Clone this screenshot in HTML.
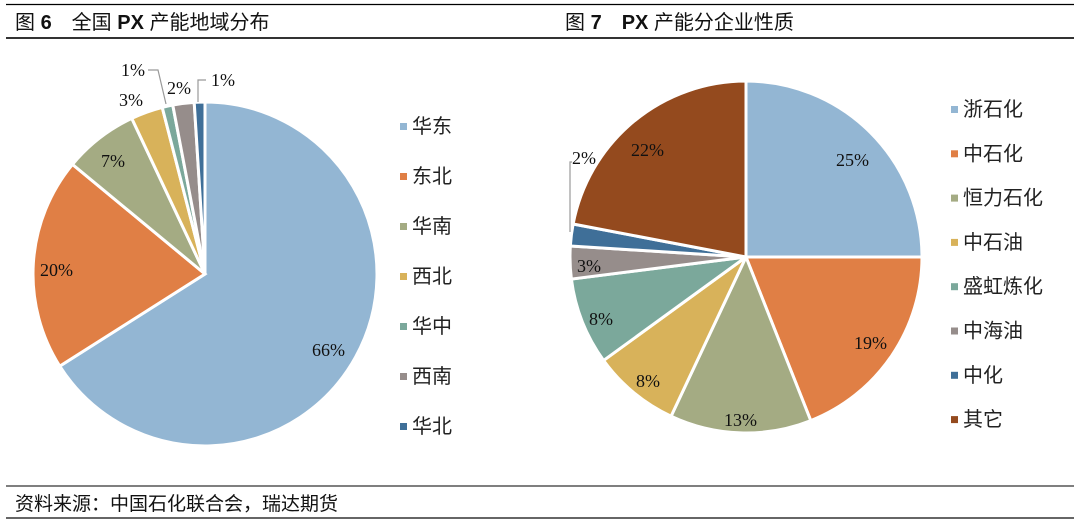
<!DOCTYPE html>
<html><head><meta charset="utf-8"><style>
body{margin:0;background:#fff;width:1080px;height:523px;overflow:hidden;font-family:"Liberation Sans","Noto Sans CJK SC",sans-serif}
svg text{font-family:"Liberation Serif","Noto Serif CJK SC",serif}
.h{font-family:"Liberation Sans","Noto Sans CJK SC",sans-serif;font-size:20px;fill:#111}
.lg{font-family:"Liberation Sans","Noto Sans CJK SC",sans-serif;font-size:20px;fill:#222}
.p{font-size:18px;fill:#111}
</style></head><body>
<svg id="s" width="1080" height="523" xmlns="http://www.w3.org/2000/svg">
<line x1="6" y1="4.5" x2="1074" y2="4.5" stroke="#000" stroke-width="1.2"/>
<line x1="6" y1="38" x2="1074" y2="38" stroke="#333" stroke-width="2"/>
<line x1="6" y1="486" x2="1074" y2="486" stroke="#333" stroke-width="1.2"/>
<line x1="6" y1="518" x2="1074" y2="518" stroke="#333" stroke-width="1.5"/>
<text class="h" x="15" y="29">图 <tspan font-weight="bold">6</tspan>　全国 <tspan font-weight="bold">PX</tspan> 产能地域分布</text>
<text class="h" x="565" y="29">图 <tspan font-weight="bold">7</tspan>　<tspan font-weight="bold">PX</tspan> 产能分企业性质</text>
<text class="h" x="15" y="510" style="font-size:19px">资料来源：中国石化联合会，瑞达期货</text>
<g id="g"></g>
<g fill="#888" stroke="#999" stroke-width="1.2">
<polyline points="148,70 158,70 166,104" fill="none"/>
<polyline points="206,80 198,80 198,102" fill="none"/>
<polyline points="572,162 570,162 570,232" fill="none"/>
</g>
<g class="p">
<text x="312" y="356">66%</text><text x="40" y="276">20%</text><text x="101" y="167">7%</text>
<text x="119" y="106">3%</text><text x="121" y="76">1%</text><text x="167" y="94">2%</text><text x="211" y="86">1%</text>
<text x="836" y="166">25%</text><text x="854" y="349">19%</text><text x="724" y="426">13%</text>
<text x="636" y="387">8%</text><text x="589" y="325">8%</text><text x="577" y="272">3%</text>
<text x="572" y="164">2%</text><text x="631" y="156">22%</text>
</g>
</svg>
<script>
const g=document.getElementById('g');
const C=['#93B6D3','#E07F45','#A4AB83','#D8B25A','#7BA89B','#968D8B','#3F6F98','#944A1E'];
function pie(cx,cy,r,vals,cols){let a=0;for(let i=0;i<vals.length;i++){const a0=a,a1=a+vals[i]/100*2*Math.PI;a=a1;
const x0=cx+r*Math.sin(a0),y0=cy-r*Math.cos(a0),x1=cx+r*Math.sin(a1),y1=cy-r*Math.cos(a1);
const p=document.createElementNS('http://www.w3.org/2000/svg','path');
p.setAttribute('d',`M${cx},${cy}L${x0},${y0}A${r},${r} 0 ${a1-a0>Math.PI?1:0} 1 ${x1},${y1}Z`);
p.setAttribute('fill',cols[i]);p.setAttribute('stroke','#fff');p.setAttribute('stroke-width','3');g.appendChild(p);}}
pie(205,274,172,[66,20,7,3,1,2,1],[C[0],C[1],C[2],C[3],C[4],C[5],C[6]]);
pie(746,257,176,[25,19,13,8,8,3,2,22],C);
function leg(x,y0,dy,names,cols){names.forEach((n,i)=>{const y=y0+i*dy;
const r=document.createElementNS('http://www.w3.org/2000/svg','rect');r.setAttribute('x',x);r.setAttribute('y',y-10);r.setAttribute('width',7);r.setAttribute('height',7);r.setAttribute('fill',cols[i]);g.appendChild(r);
const t=document.createElementNS('http://www.w3.org/2000/svg','text');t.setAttribute('class','lg');t.setAttribute('x',x+12);t.setAttribute('y',y);t.textContent=n;g.appendChild(t);});}
leg(400,133,50,['华东','东北','华南','西北','华中','西南','华北'],C);
leg(951,116,44.3,['浙石化','中石化','恒力石化','中石油','盛虹炼化','中海油','中化','其它'],C);
</script>
</body></html>
